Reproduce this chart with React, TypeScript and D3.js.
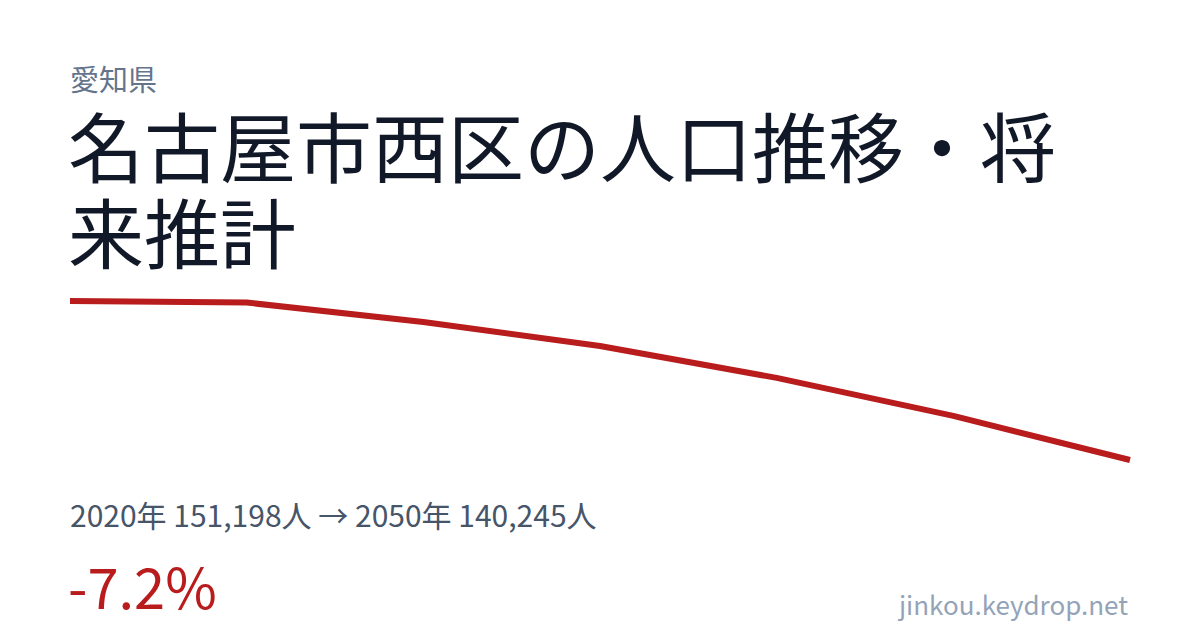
import React, { useEffect, useRef } from 'react';
import * as d3 from 'd3';

// Population (persons), 5-year steps
const years = [2020, 2025, 2030, 2035, 2040, 2045, 2050];
const population = [151198, 151090, 149750, 148100, 145900, 143280, 140245];

const prefecture = '愛知県';
const titleLines = ['名古屋市西区の人口推移・将', '来推計'];
const summary = '2020年 151,198人 → 2050年 140,245人';
const change = '-7.2%';
const siteName = 'jinkou.keydrop.net';

const WIDTH = 1200;
const HEIGHT = 630;
const FONT = '"Noto Sans CJK JP", "Noto Sans", sans-serif';

const App: React.FC = () => {
    const svgRef = useRef<SVGSVGElement>(null);

    useEffect(() => {
        if (!svgRef.current) return;
        const svg = d3.select(svgRef.current);
        svg.selectAll('*').remove();

        svg.append('rect')
            .attr('width', WIDTH)
            .attr('height', HEIGHT)
            .attr('fill', '#ffffff');

        // Header texts
        svg.append('text')
            .attr('x', 70)
            .attr('y', 91)
            .style('font-family', FONT)
            .style('font-size', '29px')
            .style('fill', '#64748b')
            .text(prefecture);

        const title = svg.append('text')
            .style('font-family', FONT)
            .style('font-size', '76px')
            .style('fill', '#111827');
        titleLines.forEach((line, i) => {
            title.append('tspan')
                .attr('x', 68)
                .attr('y', 177 + i * 86)
                .text(line);
        });

        // Line chart
        const xScale = d3.scaleLinear()
            .domain([years[0], years[years.length - 1]])
            .range([70, 1130]);

        const yScale = d3.scaleLinear()
            .domain([d3.min(population)!, d3.max(population)!])
            .range([460, 301]);

        const line = d3.line<number>()
            .x((d, i) => xScale(years[i]))
            .y(d => yScale(d));

        svg.append('path')
            .datum(population)
            .attr('fill', 'none')
            .attr('stroke', '#b91c1c')
            .attr('stroke-width', 6)
            .attr('stroke-linejoin', 'round')
            .attr('d', line);

        // Footer texts
        svg.append('text')
            .attr('x', 70)
            .attr('y', 527)
            .style('font-family', FONT)
            .style('font-size', '30px')
            .style('fill', '#475569')
            .text(summary);

        svg.append('text')
            .attr('x', 68)
            .attr('y', 609)
            .style('font-family', FONT)
            .style('font-size', '56px')
            .style('fill', '#b91c1c')
            .text(change);

        svg.append('text')
            .attr('x', 1128)
            .attr('y', 615)
            .attr('text-anchor', 'end')
            .style('font-family', FONT)
            .style('font-size', '26px')
            .style('fill', '#94a3b8')
            .text(siteName);
    }, []);

    return (
        <svg
            ref={svgRef}
            width={WIDTH}
            height={HEIGHT}
            style={{ position: 'absolute', top: 0, left: 0, display: 'block' }}
        />
    );
};

export default App;
